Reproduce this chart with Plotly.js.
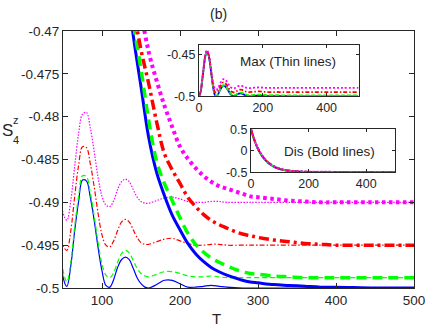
<!DOCTYPE html>
<html>
<head>
<meta charset="utf-8">
<script src="https://cdn.plot.ly/plotly-3.0.1.min.js"></script>
<style>
  html, body { margin: 0; padding: 0; background: #fff; }
  #chart { width: 436px; height: 328px; }
</style>
</head>
<body>
<div id="chart"></div>
<script>
// time grid of the thin (Max) curves
const T_thin = [0, 5, 10, 15, 20, 25, 30, 35, 40, 45, 50, 55, 60, 65, 70, 75, 80, 85, 90, 95,
  100, 105, 110, 115, 120, 125, 130, 135, 140, 145, 150, 155, 160, 170, 180, 190, 200, 210,
  220, 230, 240, 250, 260, 280, 300, 350, 400, 450, 500];

const blueThin = [-0.5, -0.4949, -0.4813, -0.4652, -0.4516, -0.4465, -0.4507, -0.4620, -0.4775, -0.4910,
  -0.4987, -0.4998, -0.4974, -0.4933, -0.4899, -0.4874, -0.4875, -0.4894, -0.4921, -0.4953,
  -0.4980, -0.4997, -0.4999, -0.4990, -0.4976, -0.4967, -0.4964, -0.4967, -0.4977, -0.4988,
  -0.4995, -0.4999, -0.5, -0.4996, -0.4991, -0.4991, -0.4995, -0.4999, -0.4999, -0.4998,
  -0.4997, -0.4998, -0.4999, -0.5, -0.5, -0.5, -0.5, -0.5, -0.5];
const greenThin = [-0.5, -0.4948, -0.4810, -0.4648, -0.4512, -0.4462, -0.4503, -0.4615, -0.4768, -0.4902,
  -0.4979, -0.4993, -0.4970, -0.4928, -0.4893, -0.4869, -0.4870, -0.4889, -0.4916, -0.4947,
  -0.4972, -0.4985, -0.4988, -0.4982, -0.4970, -0.4960, -0.4956, -0.4959, -0.4968, -0.4977,
  -0.4983, -0.4986, -0.4987, -0.4984, -0.4981, -0.4981, -0.4983, -0.4986, -0.4987, -0.4987,
  -0.4986, -0.4987, -0.4988, -0.4988, -0.4988, -0.4988, -0.4988, -0.4988, -0.4988];
const redThin = [-0.5, -0.4946, -0.4806, -0.4643, -0.4506, -0.4457, -0.4497, -0.4610, -0.4762, -0.4875,
  -0.4950, -0.4956, -0.4933, -0.4893, -0.4857, -0.4835, -0.4836, -0.4855, -0.4882, -0.4913,
  -0.4938, -0.4950, -0.4952, -0.4945, -0.4933, -0.4923, -0.4920, -0.4923, -0.4932, -0.4941,
  -0.4947, -0.4949, -0.4949, -0.4946, -0.4943, -0.4942, -0.4945, -0.4948, -0.4950, -0.4950,
  -0.4949, -0.4949, -0.4950, -0.495, -0.495, -0.495, -0.495, -0.495, -0.495];
const magentaThin = [-0.5, -0.4944, -0.4800, -0.4635, -0.4497, -0.4448, -0.4486, -0.4597, -0.4745, -0.4850,
  -0.4912, -0.4921, -0.4898, -0.4858, -0.4820, -0.4797, -0.4795, -0.4813, -0.4841, -0.4871,
  -0.4893, -0.4903, -0.4905, -0.4898, -0.4885, -0.4876, -0.4873, -0.4876, -0.4885, -0.4894,
  -0.4899, -0.4901, -0.4901, -0.4898, -0.4895, -0.4894, -0.4896, -0.4899, -0.4900, -0.4900,
  -0.4899, -0.4899, -0.4900, -0.49, -0.49, -0.49, -0.49, -0.49, -0.49];

// time grid of the bold (Dis) curves
const T_bold = [0, 10, 20, 30, 40, 50, 60, 70, 80, 90, 100, 110, 120, 130, 140, 150, 160, 170, 180, 190,
  200, 210, 220, 230, 240, 250, 260, 270, 280, 290, 300, 320, 340, 360, 380, 400, 450, 500];

const blueBold = [0.5, 0.28, 0.105, -0.03, -0.135, -0.215, -0.28, -0.33, -0.37, -0.40,
  -0.422, -0.44, -0.453, -0.4635, -0.4705, -0.4765, -0.4825, -0.4865, -0.4892, -0.4915,
  -0.4932, -0.4948, -0.4960, -0.4969, -0.4976, -0.4981, -0.4985, -0.4988, -0.4991, -0.4993,
  -0.4994, -0.4996, -0.4997, -0.4998, -0.4999, -0.4999, -0.5, -0.5];
const greenBold = [0.5, 0.285, 0.11, -0.025, -0.13, -0.21, -0.275, -0.326, -0.366, -0.397,
  -0.42, -0.438, -0.451, -0.4615, -0.469, -0.4745, -0.4805, -0.4852, -0.4878, -0.4898,
  -0.4918, -0.4936, -0.4949, -0.4958, -0.4965, -0.4970, -0.4974, -0.4978, -0.4981, -0.4983,
  -0.4984, -0.4986, -0.4987, -0.4988, -0.4988, -0.4988, -0.4988, -0.4988];
const redBold = [0.5, 0.29, 0.115, -0.02, -0.125, -0.205, -0.27, -0.322, -0.362, -0.393,
  -0.417, -0.435, -0.449, -0.4595, -0.467, -0.4722, -0.4762, -0.4806, -0.4843, -0.4862,
  -0.4878, -0.4894, -0.4905, -0.4914, -0.4921, -0.4926, -0.4930, -0.4934, -0.4937, -0.4939,
  -0.4941, -0.4944, -0.4946, -0.4948, -0.4949, -0.495, -0.495, -0.495];
const magentaBold = [0.5, 0.295, 0.12, -0.015, -0.12, -0.2, -0.265, -0.318, -0.358, -0.39,
  -0.414, -0.432, -0.446, -0.456, -0.4625, -0.4678, -0.4725, -0.4758, -0.4787, -0.4812,
  -0.4835, -0.4849, -0.4860, -0.4869, -0.4876, -0.4881, -0.4884, -0.4887, -0.4890, -0.4893,
  -0.4894, -0.4896, -0.4898, -0.4899, -0.49, -0.49, -0.49, -0.49];

// ticks
const mainXTicks = [100, 200, 300, 400, 500];
const mainYTicks = [-0.5, -0.495, -0.49, -0.485, -0.48, -0.475, -0.47];
const mainYLabels = ['-0.5', '-0.495', '-0.49', '-0.485', '-0.48', '-0.475', '-0.47'];
const insetXTicks = [0, 200, 400];
const maxYTicks = [-0.5, -0.45];
const maxYLabels = ['-0.5', '-0.45'];
const disYTicks = [-0.5, 0, 0.5];
const disYLabels = ['-0.5', '0', '0.5'];

const thinSeries = [blueThin, greenThin, redThin, magentaThin];
const boldSeries = [blueBold, greenBold, redBold, magentaBold];

const colors = ['#0000ff', '#00ff00', '#ff0000', '#ff00ff'];
const thinDash = ['solid', '5px,3px', '5px,2px,1.5px,2px', '1.5px,1.5px'];
const boldDash = ['solid', '10px,6px', '10px,4px,3px,4px', '3.5px,3.5px'];
const boldWidth = [3, 3.5, 3.5, 4];
const insetDash = ['solid', '4px,2px', '4px,2px,1.5px,2px', '2px,2px'];

const traces = [];
thinSeries.forEach((ys, i) => {
  traces.push({ x: T_thin, y: ys, type: 'scatter', mode: 'lines', xaxis: 'x', yaxis: 'y',
    line: { color: colors[i], width: 1.2, dash: thinDash[i], shape: 'spline', smoothing: 1 } });
});
boldSeries.forEach((ys, i) => {
  traces.push({ x: T_bold, y: ys, type: 'scatter', mode: 'lines', xaxis: 'x', yaxis: 'y',
    line: { color: colors[i], width: boldWidth[i], dash: boldDash[i], shape: 'spline', smoothing: 1 } });
});
// inset "Max": thin curves from T = 0
thinSeries.forEach((ys, i) => {
  traces.push({ x: T_thin, y: ys, type: 'scatter', mode: 'lines', xaxis: 'x2', yaxis: 'y2',
    line: { color: colors[i], width: 1.8, dash: insetDash[i], shape: 'spline', smoothing: 1 } });
});
// inset "Dis": bold curves from T = 0
boldSeries.forEach((ys, i) => {
  traces.push({ x: T_bold, y: ys, type: 'scatter', mode: 'lines', xaxis: 'x3', yaxis: 'y3',
    line: { color: colors[i], width: 2, dash: insetDash[i], shape: 'spline', smoothing: 1 } });
});

const axisBase = {
  showline: true, mirror: 'ticks', linecolor: '#262626', linewidth: 1,
  ticks: 'inside', tickcolor: '#262626', showgrid: false, zeroline: false
};

const layout = {
  width: 436, height: 328,
  margin: { l: 63, r: 22, t: 31, b: 40 },
  paper_bgcolor: '#ffffff', plot_bgcolor: '#ffffff',
  showlegend: false,
  font: { family: 'Liberation Sans, Arial, sans-serif', color: '#262626', size: 13 },
  xaxis: { ...axisBase, range: [50, 500], tickvals: mainXTicks, ticklen: 5,
    tickfont: { size: 13.5 }, domain: [0, 1], anchor: 'y' },
  yaxis: { ...axisBase, range: [-0.5, -0.47], tickvals: mainYTicks, ticktext: mainYLabels, ticklen: 5,
    tickfont: { size: 13.5 }, domain: [0, 1], anchor: 'x' },
  xaxis2: { ...axisBase, range: [0, 500], tickvals: insetXTicks, ticklen: 3,
    tickfont: { size: 12.5 }, domain: [0.3875, 0.842], anchor: 'y2' },
  yaxis2: { ...axisBase, range: [-0.5, -0.438], tickvals: maxYTicks, ticktext: maxYLabels, ticklen: 3,
    tickfont: { size: 12.5 }, domain: [0.746, 0.947], anchor: 'x2' },
  xaxis3: { ...axisBase, range: [0, 500], tickvals: insetXTicks, ticklen: 3,
    tickfont: { size: 12.5 }, domain: [0.5356, 0.9459], anchor: 'y3' },
  yaxis3: { ...axisBase, range: [-0.5, 0.5], tickvals: disYTicks, ticktext: disYLabels, ticklen: 3,
    tickfont: { size: 12.5 }, domain: [0.450, 0.6175], anchor: 'x3' },
  annotations: [
    { text: '(b)', xref: 'paper', yref: 'paper', x: 0.4416, y: 1.066, showarrow: false,
      xanchor: 'center', yanchor: 'middle', font: { size: 14 } },
    { text: 'T', xref: 'paper', yref: 'paper', x: 0.436, y: -0.117, showarrow: false,
      xanchor: 'center', yanchor: 'middle', font: { size: 15 } },
    { text: 'S', xref: 'paper', yref: 'paper', x: -0.157, y: 0.611, showarrow: false,
      xanchor: 'center', yanchor: 'middle', font: { size: 17 } },
    { text: 'z', xref: 'paper', yref: 'paper', x: -0.135, y: 0.652, showarrow: false,
      xanchor: 'center', yanchor: 'middle', font: { size: 11 } },
    { text: '4', xref: 'paper', yref: 'paper', x: -0.134, y: 0.574, showarrow: false,
      xanchor: 'center', yanchor: 'middle', font: { size: 11 } },
    { text: 'Max (Thin lines)', xref: 'paper', yref: 'paper', x: 0.641, y: 0.883, showarrow: false,
      xanchor: 'center', yanchor: 'middle', font: { size: 13.5 } },
    { text: 'Dis (Bold lines)', xref: 'paper', yref: 'paper', x: 0.759, y: 0.533, showarrow: false,
      xanchor: 'center', yanchor: 'middle', font: { size: 13.5 } }
  ]
};

Plotly.newPlot('chart', traces, layout, { displayModeBar: false, staticPlot: true });
</script>
</body>
</html>
